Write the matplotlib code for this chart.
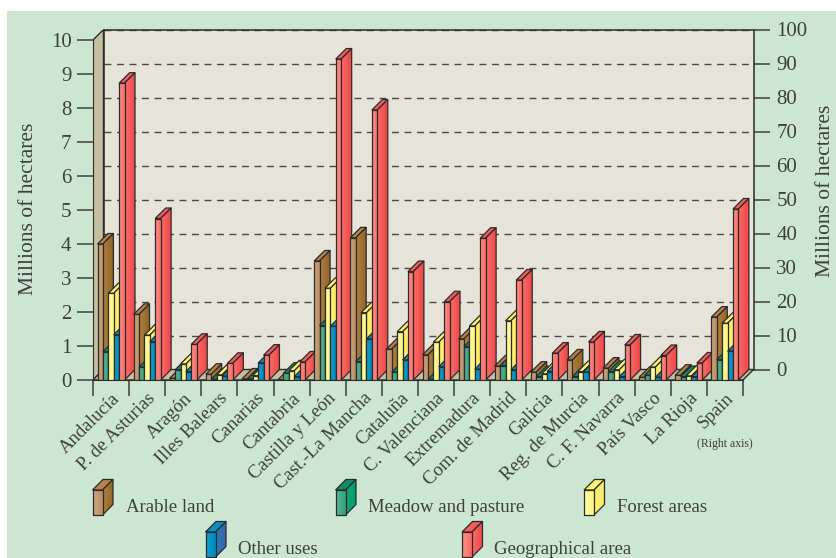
#!/usr/bin/env python3
"""Land use by region, fake 3D bars with a left (regions) and right (Spain) axis."""

import matplotlib
matplotlib.use("Agg")
import matplotlib.pyplot as plt
import numpy as np
from matplotlib.colors import to_rgb
from matplotlib.patches import Polygon, Rectangle

regions = [
    "Andalucía", "P. de Asturias", "Aragón", "Illes Balears", "Canarias",
    "Cantabria", "Castilla y León", "Cast.-La Mancha", "Cataluña",
    "C. Valenciana", "Extremadura", "Com. de Madrid", "Galicia",
    "Reg. de Murcia", "C. F. Navarra", "País Vasco", "La Rioja", "Spain",
]

# millions of hectares, left axis; Spain is read on the right axis
arable = [4.0, 1.93, 0.05, 0.17, 0.03, 0.01, 3.5, 4.18, 0.91, 0.74, 1.21, 0.41, 0.23, 0.59, 0.35, 0.08, 0.14]
meadow = [0.83, 0.38, 0.3, 0.02, 0.03, 0.2, 1.6, 0.54, 0.23, 0.02, 0.98, 0.42, 0.1, 0.1, 0.25, 0.14, 0.1]
forest = [2.55, 1.32, 0.47, 0.15, 0.13, 0.27, 2.7, 1.98, 1.42, 1.11, 1.59, 1.74, 0.18, 0.25, 0.3, 0.38, 0.12]
other = [1.33, 1.13, 0.25, 0.12, 0.5, 0.1, 1.58, 1.21, 0.59, 0.39, 0.32, 0.3, 0.25, 0.23, 0.1, 0.08, 0.1]
geo = [8.73, 4.75, 1.05, 0.49, 0.73, 0.53, 9.44, 7.94, 3.19, 2.3, 4.17, 2.94, 0.79, 1.12, 1.03, 0.72, 0.5]
spain = [18.5, 6.0, 16.7, 8.5, 50.3]

series = [arable, meadow, forest, other, geo]
series_names = ["Arable land", "Meadow and pasture", "Forest areas", "Other uses", "Geographical area"]

# (front left, front right, side left, side right, top)
palette = [
    ("#cca883", "#b98d60", "#b0803f", "#8f6228", "#b5834a"),
    ("#58b594", "#38a07e", "#10a877", "#009a6c", "#108c68"),
    ("#ffffa6", "#fff27c", "#fff26a", "#f6e86e", "#fff46a"),
    ("#12a0d2", "#0088bc", "#1a80b8", "#4060a8", "#0c8cc2"),
    ("#ff9085", "#f96c68", "#f96c68", "#ec4646", "#f25c5c"),
]

W, H = 836, 558
INK = "#2b2b2b"
TEXT = "#3f403c"
BG = "#cce6d2"
WALL = "#e6e4d8"
SIDE = "#c5bfa1"
FONT = "Liberation Serif"

PX_X = 650 / 18  # pixels per region
PX_Y = 34.0  # pixels per million ha
DEPTH = 10.5
BAR_W = 5.4 / PX_X
BAR_OFF = 4.5 / PX_X
DX = DEPTH / PX_X
DY = DEPTH / PX_Y


def px_rect(left, top, right, bottom):
    return [left / W, 1 - bottom / H, (right - left) / W, (bottom - top) / H]


def grad_face(ax, verts, c0, c1, z):
    poly = Polygon(verts, closed=True, fc="none", ec=INK, lw=0.9, zorder=z + 0.1, joinstyle="round")
    ax.add_patch(poly)
    xs, ys = zip(*verts)
    ramp = np.linspace(to_rgb(c0), to_rgb(c1), 12)[np.newaxis, :, :]
    bottom, top = min(ys), max(ys)
    if ax.yaxis_inverted():
        bottom, top = top, bottom
    im = ax.imshow(ramp, extent=(min(xs), max(xs), bottom, top), aspect="auto",
                   interpolation="bilinear", zorder=z)
    im.set_clip_path(poly)


def draw_bar(ax, x, y0, y1, w, dx, dy, colors, z):
    fl, fr, sl, sr, tp = colors
    ax.add_patch(Polygon([(x, y1), (x + w, y1), (x + w + dx, y1 + dy), (x + dx, y1 + dy)],
                         closed=True, fc=tp, ec=INK, lw=0.9, zorder=z))
    grad_face(ax, [(x + w, y0), (x + w + dx, y0 + dy), (x + w + dx, y1 + dy), (x + w, y1)], sl, sr, z + 0.2)
    grad_face(ax, [(x, y0), (x + w, y0), (x + w, y1), (x, y1)], fl, fr, z + 0.4)


fig = plt.figure(figsize=(W / 100, H / 100), dpi=100, facecolor="white")
fig.add_artist(Rectangle((7 / W, 0), 1 - 7 / W, 1 - 11 / H, transform=fig.transFigure, fc=BG, ec="none"))

# back wall, carries the right axis and the dashed grid
back = fig.add_axes(px_rect(103.5, 29.5, 753.5, 369.5), zorder=1, facecolor=WALL)
back.set_xlim(0, 18)
back.set_ylim(0, 100)
back.set_xticks([])
back.set_yticks(np.arange(0, 101, 10))
back.yaxis.tick_right()
back.tick_params(axis="y", length=11.5, width=1.1, color=TEXT, pad=5, labelsize=15, labelcolor=TEXT)
for lab in back.get_yticklabels():
    lab.set_fontfamily(FONT)
back.grid(axis="y", ls=(0, (5, 4)), lw=1.0, color="#4a4a46")
back.set_axisbelow(True)
for side in back.spines.values():
    side.set_color(INK)
    side.set_linewidth(1.1)
back.spines["bottom"].set_visible(False)

# front plane, extended by the depth so the bars fit inside it
ax = fig.add_axes(px_rect(93, 29.5, 753.5, 380), zorder=2)
ax.patch.set_visible(False)
ax.add_patch(Polygon([(0, 0), (DX, DY), (DX, 10 + DY), (0, 10)], closed=True, fc=SIDE, ec=INK, lw=1.0, zorder=1))
ax.add_patch(Polygon([(0, 0), (18, 0), (18 + DX, DY), (DX, DY)], closed=True, fc=SIDE, ec=INK, lw=1.0, zorder=1))

zo = 2.0
for i in range(len(regions)):
    for j, values in enumerate(series):
        val = spain[j] / 10 if regions[i] == "Spain" else values[i]
        draw_bar(ax, i + BAR_OFF + j * BAR_W, 0, val, BAR_W, DX, DY, palette[j], zo)
        zo += 1

ax.set_xlim(0, 18 + DX)
ax.set_ylim(0, 10 + DY)
for name in ("top", "right"):
    ax.spines[name].set_visible(False)
ax.spines["left"].set_bounds(0, 10)
ax.spines["bottom"].set_bounds(0, 18)
ax.spines["left"].set_color(INK)
ax.spines["bottom"].set_color(INK)
ax.set_yticks(np.arange(0, 11))
ax.tick_params(axis="y", length=11.5, width=1.1, color=TEXT, pad=4, labelsize=15, labelcolor=TEXT)
for lab in ax.get_yticklabels():
    lab.set_fontfamily(FONT)
ax.set_xticks(np.arange(0, 19))
ax.set_xticklabels([])
ax.tick_params(axis="x", which="major", length=11.5, width=1.1, color=TEXT)
ax.set_xticks(np.arange(18) + 0.5, minor=True)
ax.set_xticklabels(regions, minor=True, rotation=45, ha="right", va="top", rotation_mode="anchor",
                   fontsize=13.5, color=TEXT, fontfamily=FONT)
ax.tick_params(axis="x", which="minor", length=0, pad=7)

# everything else in pixel coordinates
over = fig.add_axes([0, 0, 1, 1], zorder=3)
over.patch.set_visible(False)
over.axis("off")
over.set_ylim(H, 0)
over.set_xlim(0, W)

over.text(29, 209, "Millions of hectares", rotation=90, ha="center", va="center",
          fontsize=15.5, color=TEXT, fontfamily=FONT)
over.text(825, 191, "Millions of hectares", rotation=90, ha="center", va="center",
          fontsize=15.5, color=TEXT, fontfamily=FONT)
over.text(725, 444, "(Right axis)", ha="center", va="center", fontsize=8.5, color=TEXT, fontfamily=FONT)

legend_x = [92.5, 335.5, 584, 205.5, 462]
legend_base = [515, 515, 515, 557, 557]
legend_text_x = [126, 368, 617, 238, 494]
legend_text_y = [507, 507, 507, 549, 549]
for k, name in enumerate(series_names):
    draw_bar(over, legend_x[k], legend_base[k], legend_base[k] - 25, 10, 10.5, -10.5, palette[k], 10 + k)
    over.text(legend_text_x[k], legend_text_y[k], name, ha="left", va="center",
              fontsize=13.5, color=TEXT, fontfamily=FONT)
over.set_ylim(H, 0)
over.set_xlim(0, W)

fig.savefig("out.png", dpi=100, facecolor="white")
plt.close(fig)
